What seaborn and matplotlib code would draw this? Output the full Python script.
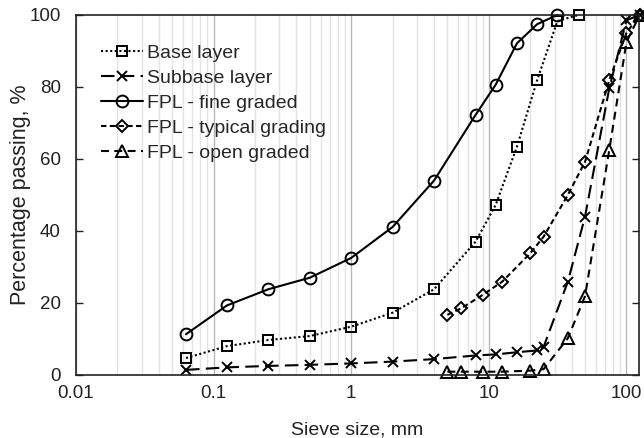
import matplotlib
matplotlib.use("Agg")
import matplotlib.pyplot as plt
import seaborn as sns
import numpy as np
import pandas as pd
from matplotlib.ticker import LogLocator, FixedLocator, NullFormatter

# ---- data ----
base_x = [0.063, 0.125, 0.25, 0.5, 1, 2, 4, 8, 11.2, 16, 22.4, 31.5, 45]
base_y = [4.7, 8.0, 9.7, 10.8, 13.4, 17.3, 23.8, 37.0, 47.2, 63.4, 81.8, 98.3, 100]

sub_x = [0.063, 0.125, 0.25, 0.5, 1, 2, 4, 8, 11.2, 16, 22.4, 25, 37.5, 50, 75, 100, 125]
sub_y = [1.4, 2.1, 2.5, 2.8, 3.2, 3.7, 4.4, 5.4, 5.7, 6.3, 6.8, 7.8, 25.9, 44.0, 79.6, 98.5, 100]

fine_x = [0.063, 0.125, 0.25, 0.5, 1, 2, 4, 8, 11.2, 16, 22.4, 31.5]
fine_y = [11.3, 19.3, 23.8, 27.0, 32.5, 41.1, 54.0, 72.2, 80.6, 92.1, 97.4, 100]

typ_x = [5, 6.3, 9, 12.5, 20, 25, 37.5, 50, 75, 100, 125]
typ_y = [16.7, 18.5, 22.2, 25.9, 33.8, 38.4, 50.0, 59.2, 81.9, 95.0, 100]

open_x = [5, 6.3, 9, 12.5, 20, 25, 37.5, 50, 75, 100, 125]
open_y = [0.9, 0.9, 0.9, 0.9, 1.2, 1.6, 10.2, 21.9, 62.5, 92.5, 100]

labels = ["Base layer", "Subbase layer", "FPL - fine graded",
          "FPL - typical grading", "FPL - open graded"]

y_ticks = [0, 20, 40, 60, 80, 100]
x_ticks = [0.01, 0.1, 1, 10, 100]
x_tick_labels = ["0.01", "0.1", "1", "10", "100"]

# ---- style ----
sns.set_style("white")
plt.rcParams['font.family'] = ['Liberation Sans', 'DejaVu Sans']

fig = plt.figure(figsize=(6.44, 4.38), dpi=100)
ax = fig.add_axes([0.118, 0.144, 0.874, 0.822])

series = [
    (base_x, base_y, 's', (0, (1.0, 1.2)), 7),
    (sub_x, sub_y, 'x', (0, (6.5, 3.0)), 7),
    (fine_x, fine_y, 'o', '-', 8.5),
    (typ_x, typ_y, 'D', (0, (2.6, 1.6)), 6),
    (open_x, open_y, '^', (0, (3.8, 2.6)), 8),
]

for (xs, ys, mk, ls, ms), lab in zip(series, labels):
    df = pd.DataFrame({"x": xs, "y": ys})
    sns.lineplot(data=df, x="x", y="y", ax=ax, color="black", linewidth=1.5,
                 linestyle=ls, marker=mk, markersize=ms,
                 markerfacecolor="none", markeredgecolor="black",
                 markeredgewidth=1.4, label=lab, clip_on=False,
                 estimator=None, sort=False)

ax.set_xscale("log")
ax.set_xlim(0.01, 123)
ax.set_ylim(0, 100)

ax.xaxis.set_major_locator(FixedLocator(x_ticks))
ax.set_xticklabels(x_tick_labels)
ax.xaxis.set_minor_locator(LogLocator(base=10, subs=np.arange(2, 10), numticks=20))
ax.xaxis.set_minor_formatter(NullFormatter())
ax.set_yticks(y_ticks)

ax.grid(True, which="major", axis="x", color="#b8b8b8", linewidth=1.0)
ax.grid(True, which="minor", axis="x", color="#e3e3e3", linewidth=1.0)
ax.grid(False, axis="y")
ax.set_axisbelow(True)

ax.tick_params(axis="x", which="both", length=0, labelsize=13.5, pad=7, colors="#222222")
ax.tick_params(axis="y", which="major", direction="in", length=5, width=1,
               left=True, right=True, labelsize=13.5, pad=11, colors="#222222")
for s in ax.spines.values():
    s.set_color("#222222")
    s.set_linewidth(1.2)

ax.set_xlabel("Sieve size, mm", fontsize=14, color="#222222", labelpad=14)
ax.set_ylabel("Percentage passing, %", fontsize=15.5, color="#222222", labelpad=-1)

leg = ax.legend(loc="upper left", bbox_to_anchor=(0.03, 0.94), frameon=False,
                fontsize=14, handlelength=2.2, handletextpad=0.2,
                labelspacing=0.38, borderaxespad=0)

fig.savefig("out.png", dpi=100)
